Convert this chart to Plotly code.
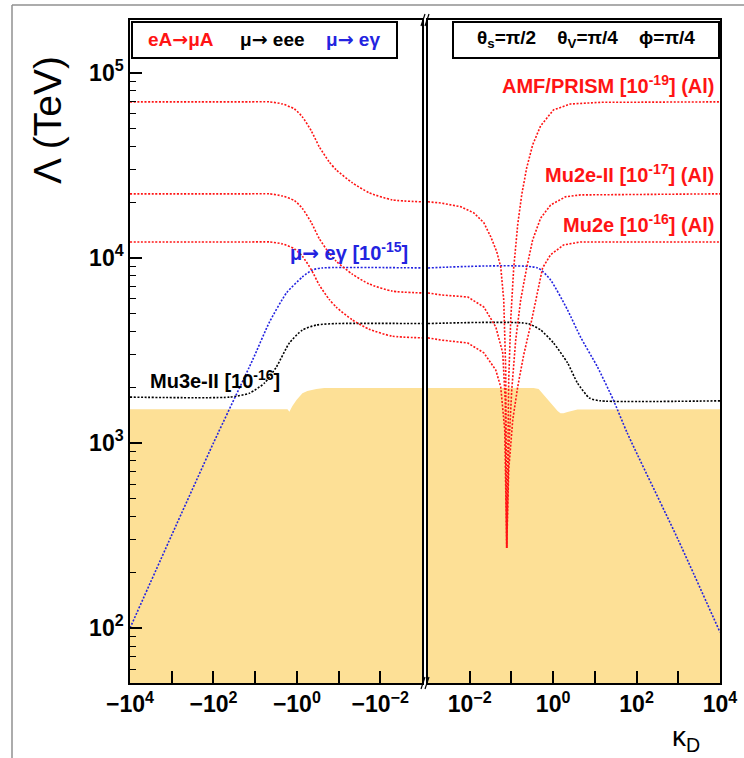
import plotly.graph_objects as go
import math

# ---------------- data ----------------
# left panel: kappa_D < 0, stored as |kappa_D|
kL_red  = [1e4, 213, 13.6, 4.52, 2.21, 1.14, 0.736, 0.449, 0.289, 0.167, 0.1135, 0.0471, 0.0185, 0.00521, 0.001]
amf_L   = [69700, 69700, 69700, 69700, 67900, 63800, 57800, 48500, 39800, 33000, 29900, 25500, 22500, 20600, 20100]
mu2e2_L = [22200, 22200, 22200, 22200, 21600, 20400, 18500, 15500, 12700, 10600, 9600, 8180, 7230, 6620, 6470]
mu2e_L  = [12200, 12200, 12200, 12200, 11900, 11200, 10200, 8630, 7130, 5960, 5420, 4630, 4120, 3780, 3700]

# right panel: kappa_D > 0
kR_amf  = [0.001, 0.00205, 0.00614, 0.01257, 0.02178, 0.0320, 0.0445, 0.0554, 0.0654, 0.0730, 0.0771,
           0.0815, 0.0861, 0.0961, 0.1134, 0.1413, 0.1762, 0.2317, 0.3225, 0.5005, 1.023, 2.608, 13.6, 1e4]
amf_R   = [20100, 19800, 18900, 17500, 15500, 13000, 10800, 8940, 5930, 2480, 271,
           917, 2190, 4620, 8830, 15100, 21900, 30600, 40800, 51700, 63100, 67900, 69300, 69700]
kR_mu2e2 = [0.001, 0.00205, 0.00903, 0.02178, 0.0421, 0.0619, 0.0710, 0.0771, 0.0861, 0.1016,
            0.1265, 0.1667, 0.2317, 0.3225, 0.5005, 0.8670, 1.982, 4.52, 1e4]
mu2e2_R  = [6470, 6310, 6150, 5430, 4240, 3070, 1710, 271, 917, 1930,
            3600, 5930, 8830, 12500, 16400, 19300, 21400, 21900, 22200]
kR_mu2e  = [0.001, 0.00205, 0.00903, 0.02178, 0.0421, 0.0554, 0.0691, 0.0771, 0.0861, 0.1074,
            0.1413, 0.1965, 0.2888, 0.4018, 0.5585, 0.8670, 1.774, 4.52, 1e4]
mu2e_R   = [3700, 3600, 3470, 3070, 2480, 2010, 1175, 271, 715, 1330,
            2010, 2990, 4340, 6310, 8830, 10400, 11750, 12200, 12200]

# mu -> e gamma
kL_meg = [1e4, 1000, 100, 11.5, 4.52, 1.77, 0.736, 0.425, 0.245, 0.001]
meg_L  = [100, 318, 1000, 2810, 4510, 6470, 7890, 8610, 8830, 8830]
kR_meg = [0.001, 0.425, 0.867, 2.21, 4.52, 11.5, 27.7, 60, 1000, 1e4]
meg_R  = [8830, 8830, 7600, 5240, 3740, 2580, 1710, 1130, 299, 95]

# mu -> eee
kL_eee = [1e4, 40.8, 13.6, 5.96, 3.08, 1.51, 0.736, 0.341, 0.1135, 0.001]
eee_L  = [1770, 1770, 1860, 2110, 2580, 3470, 4080, 4340, 4420, 4420]
kR_eee = [0.001, 0.245, 0.5005, 1.023, 2.21, 3.83, 7.41, 13.6, 1e4]
eee_R  = [4420, 4420, 4080, 3470, 2710, 2110, 1750, 1690, 1690]

# excluded region (upper edge)
kL_fill = [1e4, 1.68, 1.51, 1.28, 1.02, 0.869, 0.736, 0.56, 0.341, 0.22, 0.001]
fill_L  = [1520, 1520, 1476, 1585, 1710, 1795, 1860, 1910, 1960, 1980, 1980]
kR_fill = [0.001, 0.340, 0.449, 0.590, 0.778, 1.023, 1.28, 1.50, 1.77, 2.21, 2.91, 3.83, 1e4]
fill_R  = [1980, 1980, 1960, 1820, 1690, 1570, 1490, 1450, 1450, 1470, 1495, 1515, 1520]
FILL_FLOOR = 10

# axis ticks
x_tickvals = [1e4, 1e2, 1e0, 1e-2]
xL_ticktext = ["\u221210<sup>4</sup>", "\u221210<sup>2</sup>", "\u221210<sup>0</sup>", "\u221210<sup>\u22122</sup>"]
xR_ticktext = ["10<sup>4</sup>", "10<sup>2</sup>", "10<sup>0</sup>", "10<sup>\u22122</sup>"]
y_tickvals = [1e2, 1e3, 1e4, 1e5]
y_ticktext = ["10<sup>2</sup>", "10<sup>3</sup>", "10<sup>4</sup>", "10<sup>5</sup>"]
Y_MIN, Y_MAX = 50.5, 1.93e5

# ---------------- layout helpers ----------------
W, H = 744, 758
ML, MR, MT, MB = 130, 24, 20, 75
PW = W - ML - MR
PH = H - MT - MB


def PX(x):
    return (x - ML) / PW


def PY(y):
    return (H - MB - y) / PH


FONT = "Liberation Sans"
RED = "#ff1414"
BLUE = "#2323e0"
BLACK = "#000000"
FILLC = "#fde096"
DASH = "2px,1.6px"

fig = go.Figure()

# excluded region
fig.add_trace(go.Scatter(x=kL_fill + [kL_fill[-1], kL_fill[0]], y=fill_L + [FILL_FLOOR, FILL_FLOOR],
                         fill="toself", fillcolor=FILLC, mode="lines",
                         line=dict(width=0, color=FILLC),
                         xaxis="x", yaxis="y", hoverinfo="skip", showlegend=False))
fig.add_trace(go.Scatter(x=kR_fill + [kR_fill[-1], kR_fill[0]], y=fill_R + [FILL_FLOOR, FILL_FLOOR],
                         fill="toself", fillcolor=FILLC, mode="lines",
                         line=dict(width=0, color=FILLC),
                         xaxis="x2", yaxis="y2", hoverinfo="skip", showlegend=False))


def curve(x, y, color, side, shape="spline"):
    fig.add_trace(go.Scatter(x=x, y=y, mode="lines",
                             line=dict(color=color, width=1.6, dash=DASH, shape=shape, smoothing=0.6),
                             xaxis="x" if side == "L" else "x2",
                             yaxis="y" if side == "L" else "y2",
                             hoverinfo="skip", showlegend=False))


curve(kL_eee, eee_L, BLACK, "L")
curve(kR_eee, eee_R, BLACK, "R")
curve(kL_meg, meg_L, BLUE, "L")
curve(kR_meg, meg_R, BLUE, "R")
for yl in (amf_L, mu2e2_L, mu2e_L):
    curve(kL_red, yl, RED, "L")
curve(kR_amf, amf_R, RED, "R", shape="linear")
curve(kR_mu2e2, mu2e2_R, RED, "R", shape="linear")
curve(kR_mu2e, mu2e_R, RED, "R", shape="linear")

tickfont = dict(family=FONT, size=23, color="black", weight="bold")
xcommon = dict(type="log", tickmode="array", tickvals=x_tickvals, ticks="inside", ticklen=12,
               tickwidth=1.5, tickcolor="black", showline=True, linewidth=1.5, linecolor="black",
               minor=dict(ticks="inside", ticklen=12, dtick=1, tickwidth=1.5, tickcolor="black", showgrid=False),
               mirror=True, showgrid=False, zeroline=False, tickfont=tickfont, automargin=False)
ycommon = dict(type="log", range=[math.log10(Y_MIN), math.log10(Y_MAX)], showline=True, linewidth=1.5,
               linecolor="black", mirror=True, showgrid=False, zeroline=False, automargin=False)

fig.update_layout(
    width=W, height=H,
    margin=dict(l=ML, r=MR, t=MT, b=MB, pad=0),
    paper_bgcolor="white", plot_bgcolor="white",
    xaxis=dict(domain=[0, PX(422)], range=[4, -3], ticktext=xL_ticktext, anchor="y", **xcommon),
    xaxis2=dict(domain=[PX(428), 1], range=[-3, 4], ticktext=xR_ticktext, anchor="y2", **xcommon),
    yaxis=dict(anchor="x", tickmode="array", tickvals=y_tickvals, ticktext=y_ticktext,
               ticks="inside", ticklen=12, tickwidth=1.5, tickcolor="black", tickfont=tickfont,
               minor=dict(ticks="inside", ticklen=6, dtick="D1", tickcolor="black", tickwidth=1.2, showgrid=False),
               **ycommon),
    yaxis2=dict(anchor="x2", showticklabels=False, ticks="", **ycommon),
)

shapes = []
# legend boxes
shapes.append(dict(type="rect", xref="paper", yref="paper", x0=PX(132), x1=PX(397), y0=PY(58), y1=PY(22),
                   line=dict(color="black", width=2), fillcolor="white", layer="above"))
shapes.append(dict(type="rect", xref="paper", yref="paper", x0=PX(453), x1=PX(719), y0=PY(58), y1=PY(22),
                   line=dict(color="black", width=2), fillcolor="white", layer="above"))
# axis break marks
for yb in (683, 20):
    for dx in (0, 4):
        shapes.append(dict(type="line", xref="paper", yref="paper",
                           x0=PX(421 + dx), y0=PY(yb + 6), x1=PX(425 + dx), y1=PY(yb - 6),
                           line=dict(color="black", width=1.2)))
# outer page border
shapes.append(dict(type="line", xref="paper", yref="paper", x0=PX(12), y0=PY(5), x1=PX(12), y1=PY(758),
                   line=dict(color="#909090", width=1.5)))
shapes.append(dict(type="line", xref="paper", yref="paper", x0=PX(12), y0=PY(5), x1=PX(744), y1=PY(5),
                   line=dict(color="#909090", width=1.5)))
fig.update_layout(shapes=shapes)


def ann(text, x, y, color="black", size=20, bold=True, xanchor="center", yanchor="middle", angle=0):
    return dict(text=text, x=PX(x), y=PY(y), xref="paper", yref="paper", showarrow=False,
                xanchor=xanchor, yanchor=yanchor, textangle=angle,
                font=dict(family=FONT, size=size, color=color, weight="bold" if bold else "normal"))


NB = "\u00a0"
AR = "<span style='font-family:DejaVu Sans'>\u2192</span>"
anns = [
    ann("eA" + AR + "\u03bcA", 181, 39, RED, 19),
    ann("\u03bc" + AR + " eee", 272, 39, BLACK, 19),
    ann("\u03bc" + AR + " e\u03b3", 353, 39, BLUE, 19),
    ann("\u03b8<sub>s</sub>=\u03c0/2" + NB * 4 + "\u03b8<sub>V</sub>=\u03c0/4" + NB * 4 + "\u03d5=\u03c0/4",
        586, 39, BLACK, 19),
    ann("AMF/PRISM [10<sup>-19</sup>] (Al)", 716, 84, RED, 20, xanchor="right"),
    ann("Mu2e-II [10<sup>-17</sup>] (Al)", 716, 174, RED, 20, xanchor="right"),
    ann("Mu2e [10<sup>-16</sup>] (Al)", 716, 223, RED, 20, xanchor="right"),
    ann("\u03bc" + AR + " e\u03b3 [10<sup>-15</sup>]", 288, 252, BLUE, 20, xanchor="left"),
    ann("Mu3e-II [10<sup>-16</sup>]", 148, 379, BLACK, 20, xanchor="left"),
    ann("\u039b (TeV)", 47, 120, BLACK, 39, bold=False, angle=-90),
    ann("\u03ba<sub>D</sub>", 686, 738, BLACK, 28, bold=False),
]
fig.update_layout(annotations=anns)

fig.write_html("out.html", post_script="document.body.style.margin='0px';",
               config={"displayModeBar": False})
